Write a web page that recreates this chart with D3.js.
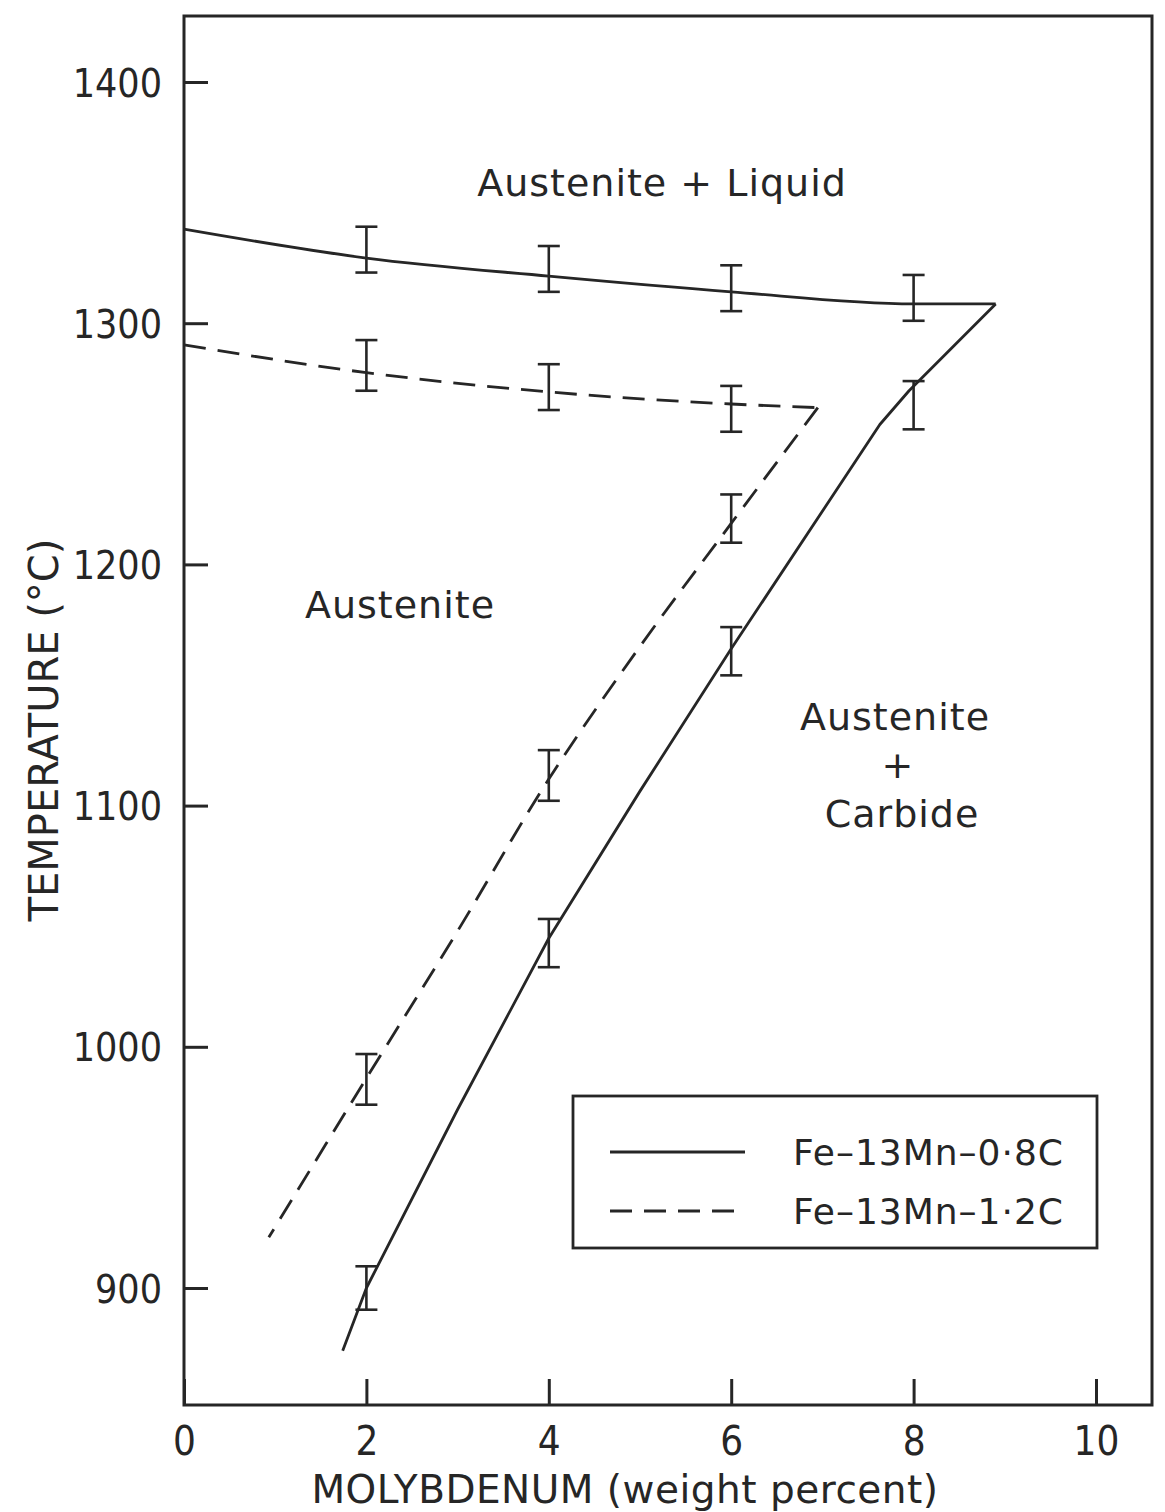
<!DOCTYPE html>
<html>
<head>
<meta charset="utf-8">
<script src="https://d3js.org/d3.v7.min.js"></script>
<style>
  body { margin: 0; background: #fff; }
  svg text { font-family: "DejaVu Sans", sans-serif; fill: #262626; }
  svg .tick text { font-family: "DejaVu Sans Condensed", "DejaVu Sans", sans-serif; }
</style>
</head>
<body>
<script>
// ticks
const xTicks = [0, 2, 4, 6, 8, 10]
const yTicks = [900, 1000, 1100, 1200, 1300, 1400]

// Fe-13Mn-0.8C (solid)
const solidLiquidus = [[0, 1339], [2, 1327], [4, 1319.5], [6, 1313], [8, 1308], [8.9, 1308]]
const solidCarbide = [[8.9, 1308], [7.95, 1272], [7.63, 1258], [6, 1165], [5, 1106], [4, 1045], [3, 974], [2, 900], [1.74, 874]]
const solidBars = [
  { mo: 2, lo: 1321, hi: 1340 }, { mo: 4, lo: 1313, hi: 1332 },
  { mo: 6, lo: 1305, hi: 1324 }, { mo: 8, lo: 1301, hi: 1320 },
  { mo: 2, lo: 891, hi: 909 }, { mo: 4, lo: 1033, hi: 1053 },
  { mo: 6, lo: 1154, hi: 1174 }, { mo: 8, lo: 1256, hi: 1276 }
]

// Fe-13Mn-1.2C (dashed)
const dashLiquidus = [[0, 1291], [2, 1279.5], [4, 1271.5], [6, 1266.5], [6.95, 1265]]
const dashCarbide = [[6.95, 1265], [6, 1217], [5, 1166], [4, 1111], [3, 1048], [2, 987], [0.93, 921]]
const dashBars = [
  { mo: 2, lo: 1272, hi: 1293 }, { mo: 4, lo: 1264, hi: 1283 }, { mo: 6, lo: 1255, hi: 1274 },
  { mo: 2, lo: 976, hi: 997 }, { mo: 4, lo: 1102, hi: 1123 }, { mo: 6, lo: 1209, hi: 1229 }
]

const legendNames = ['Fe\u201313Mn\u20130\u00b78C', 'Fe\u201313Mn\u20131\u00b72C']

const width = 1165
const height = 1512
const frame = { left: 184, right: 1152, top: 16, bottom: 1405 }
const ink = '#262626'

const svg = d3.select('body').append('svg').attr('width', width).attr('height', height)

const x = d3.scaleLinear().domain([0, 10]).range([184, 1096])
const y = d3.scaleLinear().domain([900, 1400]).range([1288, 82])

// frame
svg.append('rect')
  .attr('x', frame.left).attr('y', frame.top)
  .attr('width', frame.right - frame.left).attr('height', frame.bottom - frame.top)
  .style('fill', 'none').style('stroke', ink).style('stroke-width', 3)

// y ticks (inward)
const axisY = d3.axisLeft(y).tickValues(yTicks).tickSize(-24).tickPadding(22).tickFormat(d3.format('d'))
const gy = svg.append('g').attr('transform', 'translate(' + frame.left + ',0)').call(axisY)
gy.select('.domain').remove()
gy.selectAll('line').style('stroke', ink).style('stroke-width', 3)
gy.selectAll('text').style('font-size', '39px').attr('dy', '0.36em')

// x ticks (inward)
const axisX = d3.axisBottom(x).tickValues(xTicks).tickSize(-26).tickPadding(34).tickFormat(d3.format('d'))
const gx = svg.append('g').attr('transform', 'translate(0,' + frame.bottom + ')').call(axisX)
gx.select('.domain').remove()
gx.selectAll('line').style('stroke', ink).style('stroke-width', 3)
gx.selectAll('text').style('font-size', '40px').attr('dy', '0.4em')

// axis titles
svg.append('text')
  .attr('transform', 'translate(58,730) rotate(-90)')
  .attr('text-anchor', 'middle')
  .style('font-size', '40px')
  .text('TEMPERATURE (\u00b0C)')

svg.append('text')
  .attr('x', 625).attr('y', 1503)
  .attr('text-anchor', 'middle')
  .style('font-size', '39px')
  .style('letter-spacing', '0.5px')
  .text('MOLYBDENUM (weight percent)')

// curves
const lineX = d3.line().x(d => x(d[0])).y(d => y(d[1])).curve(d3.curveMonotoneX)
const lineCR = d3.line().x(d => x(d[0])).y(d => y(d[1])).curve(d3.curveCatmullRom.alpha(0.5))
const lineL = d3.line().x(d => x(d[0])).y(d => y(d[1]))

const curves = [
  { pts: solidLiquidus, gen: lineX, dash: null },
  { pts: solidCarbide, gen: lineL, dash: null },
  { pts: dashLiquidus, gen: lineX, dash: '22,12' },
  { pts: dashCarbide, gen: lineCR, dash: '22,12' }
]
curves.forEach(c => {
  svg.append('path').attr('d', c.gen(c.pts))
    .style('fill', 'none').style('stroke', ink).style('stroke-width', 2.8)
    .style('stroke-linejoin', 'round')
    .style('stroke-dasharray', c.dash)
})

// error bars
const cap = 11
const bars = solidBars.concat(dashBars)
const eb = svg.append('g').style('stroke', ink).style('stroke-width', 2.6)
bars.forEach(b => {
  const cx = x(b.mo)
  eb.append('line').attr('x1', cx).attr('x2', cx).attr('y1', y(b.lo)).attr('y2', y(b.hi))
  eb.append('line').attr('x1', cx - cap).attr('x2', cx + cap).attr('y1', y(b.lo)).attr('y2', y(b.lo))
  eb.append('line').attr('x1', cx - cap).attr('x2', cx + cap).attr('y1', y(b.hi)).attr('y2', y(b.hi))
})

// region labels
const labels = [
  { t: 'Austenite + Liquid', x: 662, y: 196 },
  { t: 'Austenite', x: 400, y: 618 },
  { t: 'Austenite', x: 895, y: 730 },
  { t: '+', x: 898, y: 778 },
  { t: 'Carbide', x: 902, y: 827 }
]
labels.forEach(l => {
  svg.append('text').attr('x', l.x).attr('y', l.y)
    .attr('text-anchor', 'middle').style('font-size', '38px')
    .style('letter-spacing', '1px').text(l.t)
})

// legend
const lg = svg.append('g')
lg.append('rect').attr('x', 573).attr('y', 1096).attr('width', 524).attr('height', 152)
  .style('fill', '#fff').style('stroke', ink).style('stroke-width', 2.8)
legendNames.forEach((name, i) => {
  const ly = 1152 + i * 59
  lg.append('line').attr('x1', 610).attr('x2', 745).attr('y1', ly).attr('y2', ly)
    .style('stroke', ink).style('stroke-width', 2.8)
    .style('stroke-dasharray', i === 1 ? '22,12' : null)
  lg.append('text').attr('x', 793).attr('y', ly + 13).style('font-size', '36px')
    .style('letter-spacing', '1px').text(name)
})
</script>
</body>
</html>
